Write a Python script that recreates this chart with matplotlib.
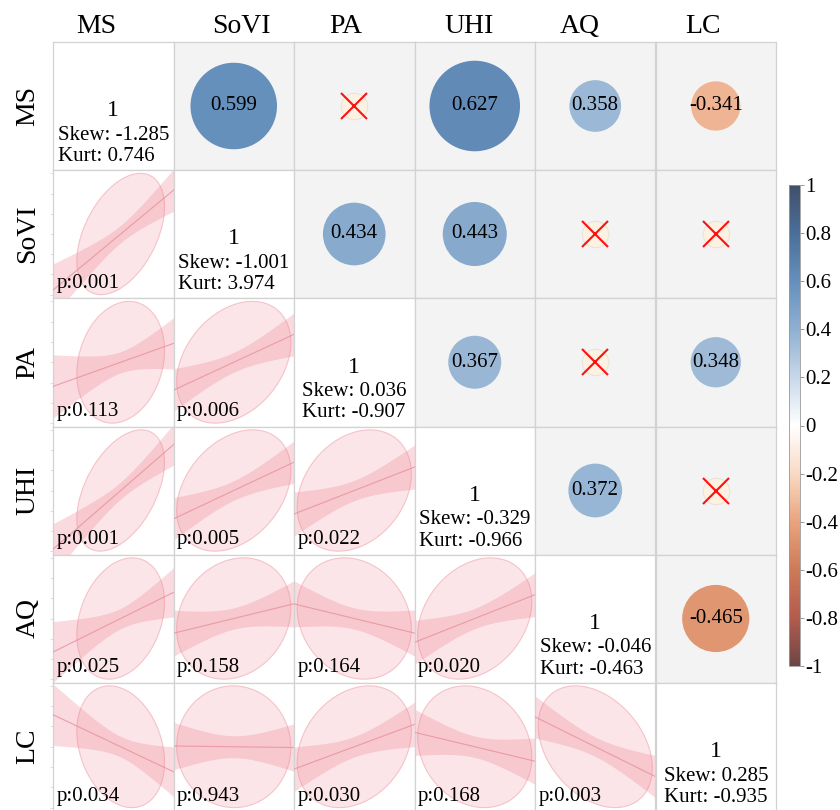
import numpy as np
import matplotlib
matplotlib.use("Agg")
import matplotlib.pyplot as plt
from matplotlib.patches import Ellipse
from matplotlib.colors import LinearSegmentedColormap, Normalize
from matplotlib.cm import ScalarMappable

plt.rcParams['font.family'] = ['Liberation Serif', 'DejaVu Serif']

# ---------------- data ----------------
labels = ['MS', 'SoVI', 'PA', 'UHI', 'AQ', 'LC']
# correlation matrix rows (non-significant pairs estimated from slope / p-value)
r_MS = [1.0, 0.599, 0.257, 0.627, 0.358, -0.341]
r_SoVI = [0.599, 1.0, 0.434, 0.443, 0.230, -0.012]
r_PA = [0.257, 0.434, 1.0, 0.367, -0.228, 0.348]
r_UHI = [0.627, 0.443, 0.367, 1.0, 0.372, -0.225]
r_AQ = [0.358, 0.230, -0.228, 0.372, 1.0, -0.465]
r_LC = [-0.341, -0.012, 0.348, -0.225, -0.465, 1.0]
# p-values (lower triangle, by row)
p_SoVI = [0.001]
p_PA = [0.113, 0.006]
p_UHI = [0.001, 0.005, 0.022]
p_AQ = [0.025, 0.158, 0.164, 0.020]
p_LC = [0.034, 0.943, 0.030, 0.168, 0.003]
skew = [-1.285, -1.001, 0.036, -0.329, -0.046, 0.285]
kurt = [0.746, 3.974, -0.907, -0.966, -0.463, -0.935]
# observed range of each variable in standard-deviation units
z_min = [-2.78, -1.9, -1.9, -1.9, -1.9, -1.9]
z_max = [2.17, 1.9, 1.9, 1.9, 1.9, 1.9]
n_obs = 39
t_crit = 2.026      # t(0.975, df=37)
ell_k = 1.8         # ellipse radius in SD units
ell_shape = 0.75    # robust ellipse: shrinkage of the correlation used for its shape

R = np.array([r_MS, r_SoVI, r_PA, r_UHI, r_AQ, r_LC])
P_lower = [[], p_SoVI, p_PA, p_UHI, p_AQ, p_LC]
nv = len(labels)

# ---------------- layout ----------------
W, H = 840, 810
fig = plt.figure(figsize=(W / 100, H / 100), dpi=100)
xb = [53, 173.5, 294, 414.5, 535, 655.5, 776]
yb = [42, 170, 298, 426.5, 554.5, 682.5, 811]
head_dx = [-17, 8, -9, -6, -16, -13]

cmap = LinearSegmentedColormap.from_list('corr', [
    (0.0, '#6e4646'), (0.1, '#b35c4e'), (0.2, '#cd7a58'), (0.3, '#e9a47e'),
    (0.4, '#f9dac4'), (0.5, '#ffffff'), (0.6, '#c8d8ea'), (0.7, '#8fb0d1'),
    (0.8, '#6590bb'), (0.9, '#4a6f99'), (1.0, '#414f6b')])
norm = Normalize(-1, 1)

grid_c = '#d2d2d2'
pink = '#ee7d8c'

for i in range(nv):
    for j in range(nv):
        x0, x1 = xb[j], xb[j + 1]
        y0, y1 = yb[i], yb[i + 1]
        ax = fig.add_axes([x0 / W, 1 - y1 / H, (x1 - x0) / W, (y1 - y0) / H])
        ax.set_xticks([]); ax.set_yticks([])
        for s in ax.spines.values():
            s.set_color(grid_c); s.set_linewidth(0.9)
        if i < j:
            # upper triangle: circles
            ax.set_facecolor('#f3f3f3')
            ax.set_xlim(-1, 1); ax.set_ylim(-1, 1)
            r = R[i, j]
            p = P_lower[j][i]
            if p < 0.05:
                d = 104 * abs(r)
                ax.scatter([0], [0], s=d ** 2, color=cmap(norm(r)), edgecolor='none', zorder=2)
                ax.text(0, 0, f'{r:.3f}', ha='center', va='center', fontsize=15, zorder=3)
            else:
                ax.scatter([0], [0], s=19 ** 2, color='#fdf1e1', edgecolor='#ece3d8', lw=0.8, zorder=2)
                ax.plot([0], [0], marker='x', ms=19, mew=1.5, color='#ff1010', zorder=3)
        elif i == j:
            ax.set_facecolor('white')
            ax.set_xlim(0, 1); ax.set_ylim(0, 1)
            ax.text(0.5, 1 - 69 / 128, '1', ha='center', va='center', fontsize=17)
            ax.text(0.5, 1 - 104 / 128, f'Skew: {skew[i]:.3f}\nKurt: {kurt[i]:.3f}',
                    ha='center', va='center', multialignment='left', fontsize=15,
                    linespacing=1.15)
        else:
            # lower triangle: x = column variable, y = row variable
            ax.set_facecolor('white')
            ax.set_xlim(z_min[j], z_max[j])
            ax.set_ylim(z_min[i], z_max[i])
            if j == 0:
                ax.set_yticks(np.arange(-1.8, 1.9, 0.6))
                ax.set_yticklabels([])
                ax.tick_params(axis='y', length=2, width=0.6, color='#d8d8d8')
            r = R[i, j]
            rs = ell_shape * r
            w_e = 2 * ell_k * np.sqrt(1 + rs)
            h_e = 2 * ell_k * np.sqrt(1 - rs)
            e = Ellipse((0, 0), width=w_e, height=h_e, angle=45,
                        facecolor=pink, alpha=0.2, edgecolor='none', zorder=1)
            ax.add_patch(e)
            e2 = Ellipse((0, 0), width=w_e, height=h_e, angle=45,
                         facecolor='none', edgecolor='#f4c3c9', lw=0.8, zorder=1)
            ax.add_patch(e2)
            xs = np.linspace(z_min[j] - 0.2, z_max[j] + 0.2, 200)
            yfit = r * xs
            half = t_crit * np.sqrt(1 - r ** 2) * np.sqrt(1 / n_obs + xs ** 2 / (n_obs - 1))
            ax.fill_between(xs, yfit - half, yfit + half, color=pink, alpha=0.28, lw=0, zorder=2)
            ax.plot(xs, yfit, color='#e8909b', lw=0.8, alpha=0.8, zorder=3)
            ax.text(0.03, 0.04, f'p:{P_lower[i][j]:.3f}', transform=ax.transAxes,
                    ha='left', va='bottom', fontsize=15, zorder=5)

# column headers and row labels
for k, lab in enumerate(labels):
    cx = (xb[k] + xb[k + 1]) / 2 + head_dx[k]
    fig.text(cx / W, 1 - 33 / H, lab, ha='center', va='baseline', fontsize=20)
    cy = (yb[k] + yb[k + 1]) / 2
    fig.text(28 / W, 1 - cy / H, lab, ha='center', va='center', rotation=90, fontsize=20)

# colorbar
cax = fig.add_axes([789 / W, 1 - 666 / H, 11 / W, 481 / H])
cb = fig.colorbar(ScalarMappable(norm=norm, cmap=cmap), cax=cax)
ticks = np.round(np.arange(-1, 1.01, 0.2), 1)
cb.set_ticks(ticks)
cb.set_ticklabels(['1' if t == 1 else '-1' if t == -1 else '0' if t == 0 else f'{t:g}' for t in ticks])
cb.ax.tick_params(labelsize=15, length=3, width=0.6, color='#888888', pad=1)
cb.outline.set_edgecolor('#999999')
cb.outline.set_linewidth(0.6)

fig.savefig('out.png', dpi=100)
